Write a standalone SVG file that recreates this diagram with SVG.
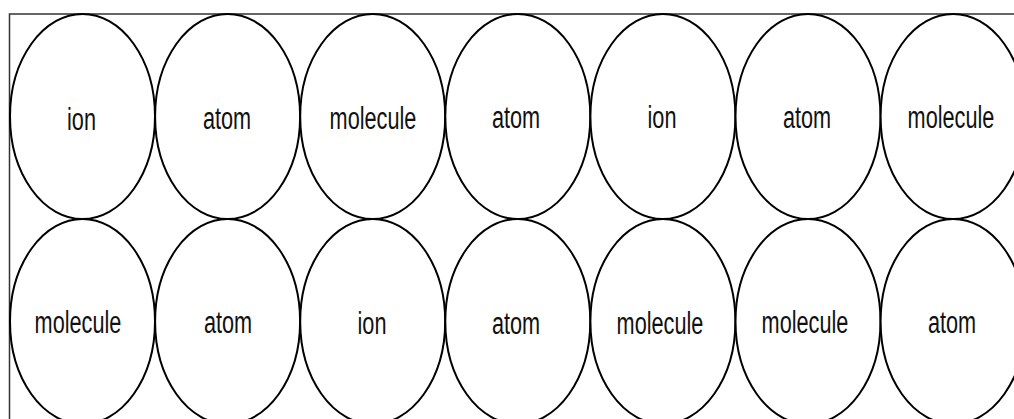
<svg xmlns="http://www.w3.org/2000/svg" width="1014" height="419" viewBox="0 0 1014 419">
<style>
.e{fill:#fff;stroke:#000;stroke-width:2}
.t{font-family:"Liberation Sans",Arial,sans-serif;font-size:21.7px;fill:#111;text-anchor:middle}
.frame{fill:none;stroke:#333;stroke-width:1.5}
</style>
<rect width="1014" height="419" fill="#fff"/>
<g id="connectors"></g>
<rect class="frame" x="9.5" y="14" width="1020" height="420"/>
<g id="r1c1"><ellipse class="e" cx="82.5" cy="116.5" rx="72.5" ry="102.5"/><text class="t" transform="translate(81.5,130) scale(1,1.45)">ion</text></g>
<g id="r1c2"><ellipse class="e" cx="227.6" cy="116.5" rx="72.5" ry="102.5"/><text class="t" transform="translate(227,129) scale(1,1.45)">atom</text></g>
<g id="r1c3"><ellipse class="e" cx="372.7" cy="116.5" rx="72.5" ry="102.5"/><text class="t" transform="translate(373,128.5) scale(1,1.45)">molecule</text></g>
<g id="r1c4"><ellipse class="e" cx="517.8" cy="116.5" rx="72.5" ry="102.5"/><text class="t" transform="translate(516,128) scale(1,1.45)">atom</text></g>
<g id="r1c5"><ellipse class="e" cx="662.9" cy="116.5" rx="72.5" ry="102.5"/><text class="t" transform="translate(662,127.5) scale(1,1.45)">ion</text></g>
<g id="r1c6"><ellipse class="e" cx="808" cy="116.5" rx="72.5" ry="102.5"/><text class="t" transform="translate(807,127.5) scale(1,1.45)">atom</text></g>
<g id="r1c7"><ellipse class="e" cx="953.1" cy="116.5" rx="72.5" ry="102.5"/><text class="t" transform="translate(951,128) scale(1,1.45)">molecule</text></g>
<g id="r2c1"><ellipse class="e" cx="82.5" cy="321.5" rx="72.5" ry="102.5"/><text class="t" transform="translate(78,332.5) scale(1,1.45)">molecule</text></g>
<g id="r2c2"><ellipse class="e" cx="227.6" cy="321.5" rx="72.5" ry="102.5"/><text class="t" transform="translate(228,333) scale(1,1.45)">atom</text></g>
<g id="r2c3"><ellipse class="e" cx="372.7" cy="321.5" rx="72.5" ry="102.5"/><text class="t" transform="translate(372,334) scale(1,1.45)">ion</text></g>
<g id="r2c4"><ellipse class="e" cx="517.8" cy="321.5" rx="72.5" ry="102.5"/><text class="t" transform="translate(516,334) scale(1,1.45)">atom</text></g>
<g id="r2c5"><ellipse class="e" cx="662.9" cy="321.5" rx="72.5" ry="102.5"/><text class="t" transform="translate(660,334) scale(1,1.45)">molecule</text></g>
<g id="r2c6"><ellipse class="e" cx="808" cy="321.5" rx="72.5" ry="102.5"/><text class="t" transform="translate(805,333) scale(1,1.45)">molecule</text></g>
<g id="r2c7"><ellipse class="e" cx="953.1" cy="321.5" rx="72.5" ry="102.5"/><text class="t" transform="translate(952,333) scale(1,1.45)">atom</text></g>
</svg>
